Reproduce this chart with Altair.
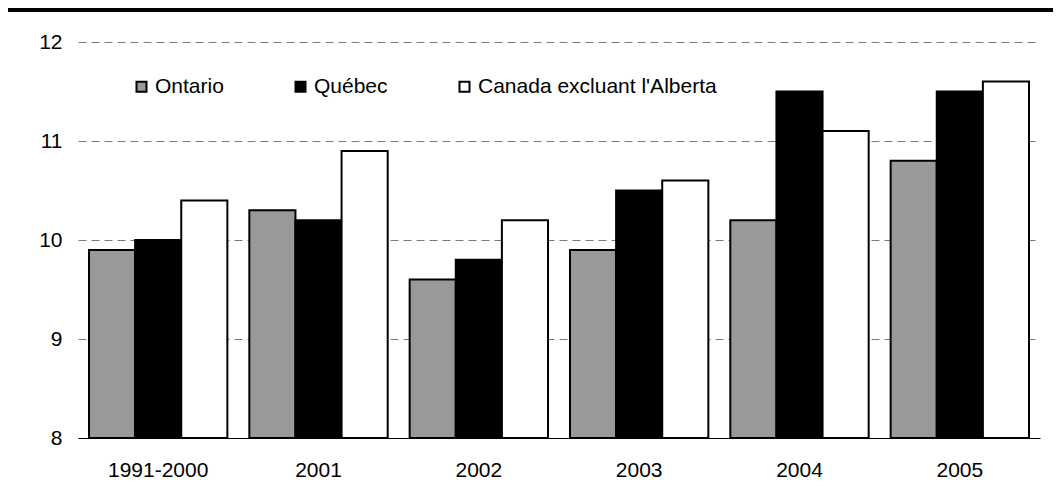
import altair as alt
import pandas as pd

categories = ["1991-2000", "2001", "2002", "2003", "2004", "2005"]
series = ["Ontario", "Québec", "Canada excluant l'Alberta"]
ontario = [9.9, 10.3, 9.6, 9.9, 10.2, 10.8]
quebec = [10.0, 10.2, 9.8, 10.5, 11.5, 11.5]
canada_ex_ab = [10.4, 10.9, 10.2, 10.6, 11.1, 11.6]
y_ticks = [8, 9, 10, 11, 12]

rows = []
for name, vals in zip(series, [ontario, quebec, canada_ex_ab]):
    for c, v in zip(categories, vals):
        rows.append({"cat": c, "serie": name, "value": v})
df = pd.DataFrame(rows)

FONT = "Liberation Sans"

bars = alt.Chart(df).mark_bar(stroke="black", strokeWidth=2).encode(
    x=alt.X("cat:N", sort=categories, title=None,
            scale=alt.Scale(paddingInner=0.137, paddingOuter=0.0686),
            axis=alt.Axis(labelAngle=0, ticks=False, tickSize=0, labelPadding=21,
                          domainColor="black", domainWidth=1, grid=False,
                          labelFontSize=21, labelColor="black", labelFont=FONT)),
    xOffset=alt.XOffset("serie:N", sort=series,
                        scale=alt.Scale(paddingInner=0, paddingOuter=0)),
    y=alt.Y("value:Q", title=None,
            scale=alt.Scale(domain=[8, 12], nice=False, zero=False),
            axis=alt.Axis(values=y_ticks, ticks=False, tickSize=0, domain=False,
                          labelPadding=16, grid=True, gridColor="#7a7a7a",
                          gridDash=[8, 5], gridWidth=1,
                          labelFontSize=21, labelColor="black", labelFont=FONT)),
    y2=alt.datum(8),
    color=alt.Color("serie:N", sort=series,
                    scale=alt.Scale(domain=series, range=["#999999", "#000000", "#ffffff"]),
                    legend=alt.Legend(title=None, orient="none", direction="horizontal",
                                      legendX=53, legendY=34, padding=0,
                                      symbolType="square", symbolSize=100,
                                      symbolStrokeColor="black", symbolStrokeWidth=2,
                                      labelFontSize=21, labelFont=FONT, labelColor="black",
                                      labelLimit=0, labelOffset=3, columnPadding=66)),
)

top_rule = alt.Chart(pd.DataFrame({"a": [0]})).mark_rule(color="black", strokeWidth=4).encode(
    x=alt.value(-70), x2=alt.value(975), y=alt.value(-32)
)

chart = alt.layer(bars, top_rule).properties(
    width=962, height=396,
    autosize=alt.AutoSizeParams(type="none"),
    padding={"left": 70, "top": 34, "right": 13, "bottom": 50},
).configure_view(stroke=None)

chart.save("out.html", embed_options={"renderer": "svg", "actions": False})
